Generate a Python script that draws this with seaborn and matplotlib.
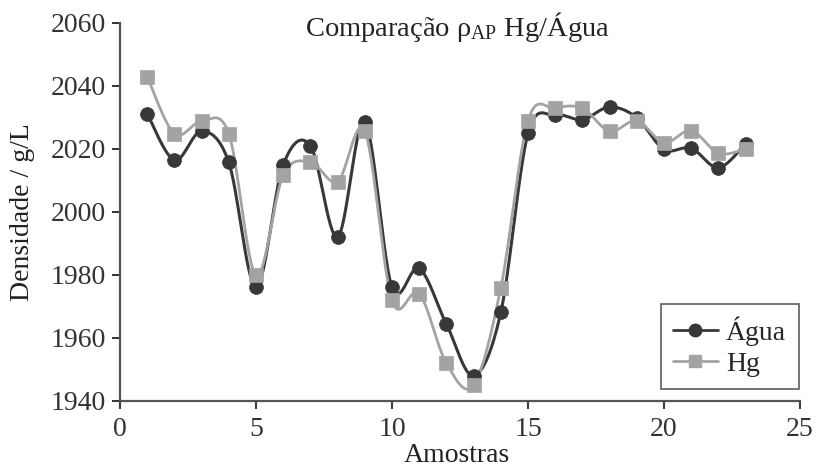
import numpy as np
import pandas as pd
import matplotlib
matplotlib.use("Agg")
import matplotlib.pyplot as plt
import seaborn as sns
from matplotlib.lines import Line2D

amostras = list(range(1, 24))
agua = [2031.2, 2016.4, 2025.6, 2015.7, 1976.0, 2014.9, 2021.0, 1992.0, 2028.6, 1976.0,
        1982.0, 1964.3, 1947.9, 1968.0, 2024.9, 2030.7, 2029.3, 2033.3, 2029.9, 2019.8,
        2020.2, 2014.0, 2021.6]
hg = [2042.9, 2024.8, 2028.8, 2024.8, 1979.8, 2011.6, 2015.8, 2009.6, 2025.6, 1971.8,
      1974.0, 1951.8, 1944.9, 1975.8, 2028.9, 2032.9, 2032.9, 2025.6, 2028.9, 2022.0,
      2025.8, 2018.6, 2019.9]
xticks = [0, 5, 10, 15, 20, 25]
yticks = [1940, 1960, 1980, 2000, 2020, 2040, 2060]

sns.set_style("ticks")
plt.rcParams['font.family'] = ['Liberation Serif', 'DejaVu Serif']
plt.rcParams['mathtext.fontset'] = 'custom'
plt.rcParams['mathtext.rm'] = 'Liberation Serif'
plt.rcParams['mathtext.it'] = 'Liberation Serif:italic'


def smooth(x, y, n=30):
    """Excel-like smoothed curve (cubic Bezier, Catmull-Rom tangents)."""
    x = np.asarray(x, float)
    y = np.asarray(y, float)
    P = np.column_stack([x, y])
    out = []
    for i in range(len(P) - 1):
        p0 = P[i - 1] if i > 0 else P[i]
        p1 = P[i]
        p2 = P[i + 1]
        p3 = P[i + 2] if i + 2 < len(P) else P[i + 1]
        c1 = p1 + (p2 - p0) / 6.0
        c2 = p2 - (p3 - p1) / 6.0
        t = np.linspace(0, 1, n, endpoint=(i == len(P) - 2))[:, None]
        seg = ((1 - t) ** 3) * p1 + 3 * ((1 - t) ** 2) * t * c1 + 3 * (1 - t) * t ** 2 * c2 + t ** 3 * p2
        out.append(seg)
    arr = np.vstack(out)
    return arr[:, 0], arr[:, 1]


c_agua = '#383838'
c_hg = '#a3a3a3'
txt = '#222222'
FS = 20

fig = plt.figure(figsize=(8.19, 4.71), dpi=100)
ax = fig.add_axes([120 / 819, 1 - 400.5 / 471, 680 / 819, 377.5 / 471])

xs, ys = smooth(amostras, agua)
sns.lineplot(x=xs, y=ys, ax=ax, color=c_agua, lw=2.2, sort=False, estimator=None)
sns.scatterplot(x=amostras, y=agua, ax=ax, color=c_agua, marker='o', s=100,
                edgecolor=c_agua, linewidth=0.5, zorder=3)
xs2, ys2 = smooth(amostras, hg)
sns.lineplot(x=xs2, y=ys2, ax=ax, color=c_hg, lw=2.0, sort=False, estimator=None)
sns.scatterplot(x=amostras, y=hg, ax=ax, color=c_hg, marker='s', s=100,
                edgecolor=c_hg, linewidth=0.5, zorder=4)

ax.set_xlim(0, 25)
ax.set_ylim(1940, 2060)
ax.set_xticks(xticks)
ax.set_yticks(yticks)
ax.tick_params(labelsize=FS, colors='#333333', length=6, width=1.4, direction='out')
ax.tick_params(axis='x', pad=6)
ax.tick_params(axis='y', pad=4)
for s in ['top', 'right']:
    ax.spines[s].set_visible(False)
for s in ['left', 'bottom']:
    ax.spines[s].set_color('#555555')
    ax.spines[s].set_linewidth(1.6)
ax.set_xlabel('')
ax.set_ylabel('')

fig.text(23 / 819, 1 - 212 / 471, 'Densidade / g/L', rotation=90, ha='center', va='center',
         fontsize=FS, color=txt)
fig.text(457 / 819, 3 / 471, 'Amostras', ha='center', va='bottom', fontsize=FS,
         color=txt)
fig.text(457 / 819, 1 - 27 / 471, r'Comparação ρ$_{\mathrm{AP}}$ Hg/Água', ha='center',
         va='center', fontsize=20.5, color=txt)

handles = [Line2D([], [], color=c_agua, lw=2.0, marker='o', markersize=9),
           Line2D([], [], color=c_hg, lw=2.0, marker='s', markersize=8)]
leg = ax.legend(handles, ['Água', 'Hg'], loc='lower right', bbox_to_anchor=(0.998, 0.03),
                fontsize=FS, frameon=True, fancybox=False, handlelength=1.6,
                handletextpad=0.3, borderpad=0.45, labelspacing=0.2, borderaxespad=0.0)
leg.get_frame().set_edgecolor('#444444')
leg.get_frame().set_linewidth(1.3)

fig.savefig('out.png', dpi=100)
